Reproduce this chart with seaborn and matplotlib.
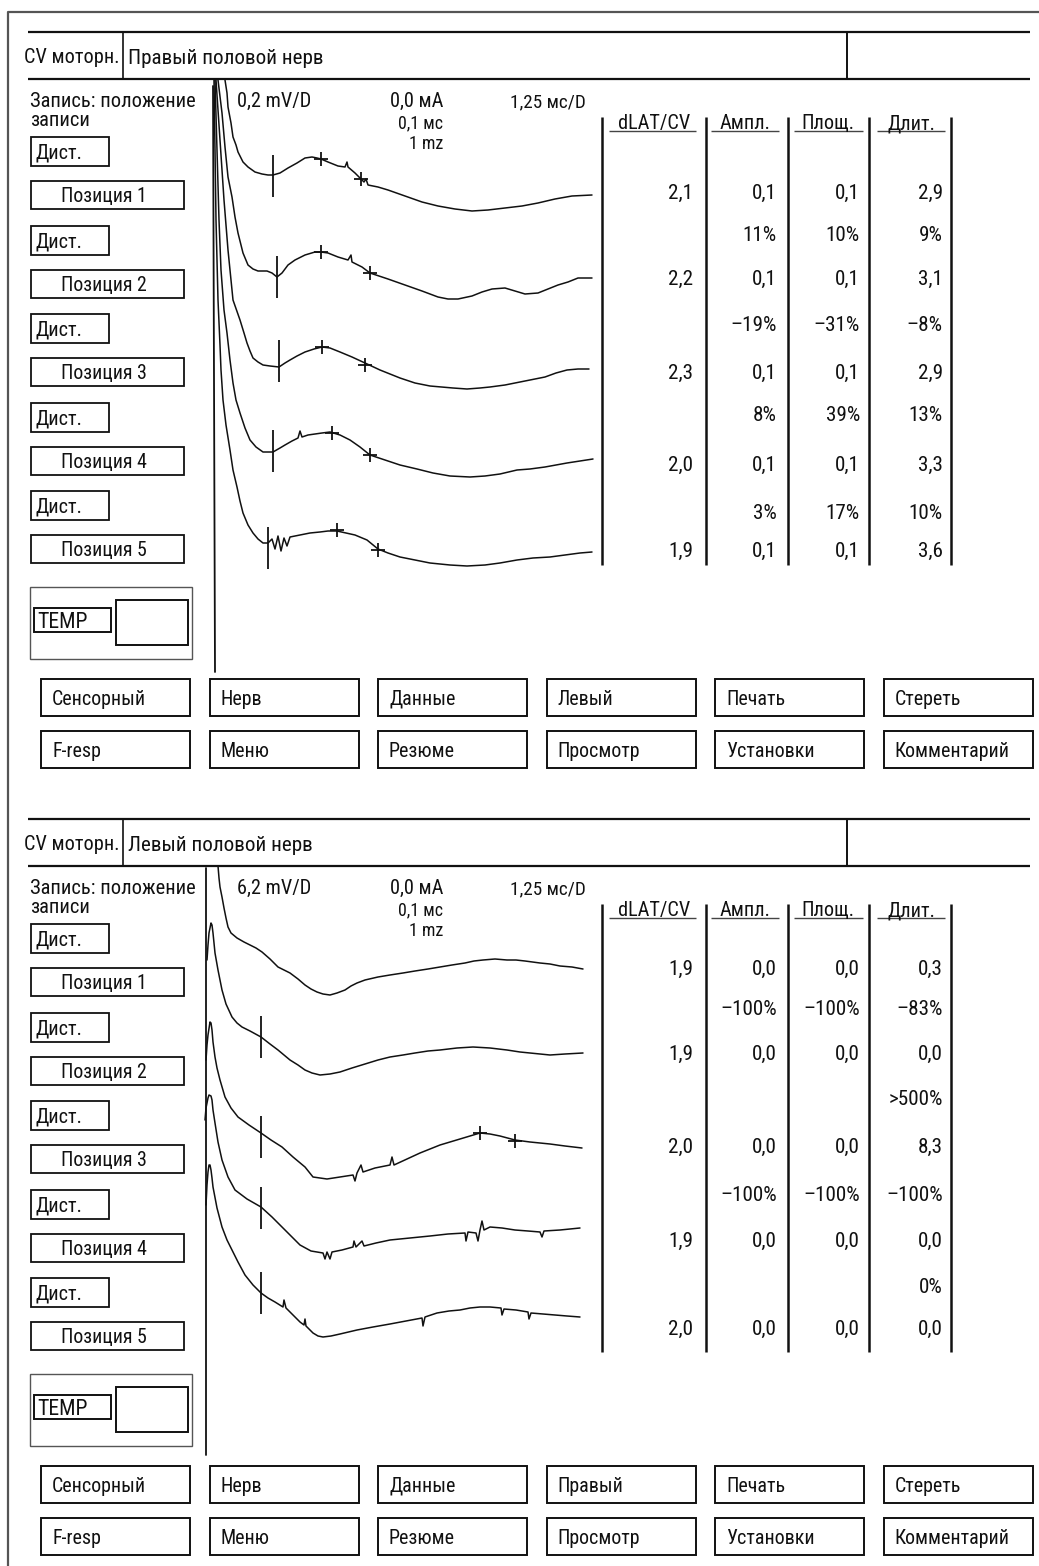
import matplotlib
matplotlib.use("Agg")
import matplotlib.pyplot as plt
import seaborn as sns
import pandas as pd
from matplotlib.patches import Rectangle
from matplotlib import font_manager as fm

sns.set_theme(style="white")

# pick a condensed sans family if one is installed, else Liberation Sans
_names = {f.name for f in fm.fontManager.ttflist}
FONT_SCALE = 1.0
if "Roboto Condensed" in _names:
    plt.rcParams['font.family'] = ['Roboto Condensed', 'DejaVu Sans']
    FONT_SCALE = 1.12
elif "Liberation Sans Narrow" in _names:
    plt.rcParams['font.family'] = ['Liberation Sans Narrow', 'DejaVu Sans']
    FONT_SCALE = 1.12
else:
    plt.rcParams['font.family'] = ['Liberation Sans', 'DejaVu Sans']

# ---------------------------------------------------------------- data
mode_label = "CV моторн."
panel_titles = ["Правый половой нерв", "Левый половой нерв"]
record_label = ["Запись: положение", "записи"]
gain_labels = ["0,2 mV/D", "6,2 mV/D"]
stim_labels = ["0,0 мА", "0,1 мс", "1 mz"]
sweep_label = "1,25 мс/D"
table_headers = ["dLAT/CV", "Ампл.", "Площ.", "Длит."]
dist_label = "Дист."
site_labels = ["Позиция 1", "Позиция 2", "Позиция 3", "Позиция 4", "Позиция 5"]
temp_label = "TEMP"
buttons_row1 = [["Сенсорный", "Нерв", "Данные", "Левый", "Печать", "Стереть"],
                ["Сенсорный", "Нерв", "Данные", "Правый", "Печать", "Стереть"]]
buttons_row2 = ["F-resp", "Меню", "Резюме", "Просмотр", "Установки", "Комментарий"]

# right nerve results
right_dlat = ["2,1", "2,2", "2,3", "2,0", "1,9"]
right_ampl = ["0,1", "0,1", "0,1", "0,1", "0,1"]
right_area = ["0,1", "0,1", "0,1", "0,1", "0,1"]
right_dur = ["2,9", "3,1", "2,9", "3,3", "3,6"]
right_ampl_pct = ["11%", "–19%", "8%", "3%"]
right_area_pct = ["10%", "–31%", "39%", "17%"]
right_dur_pct = ["9%", "–8%", "13%", "10%"]

# left nerve results
left_dlat = ["1,9", "1,9", "2,0", "1,9", "2,0"]
left_ampl = ["0,0", "0,0", "0,0", "0,0", "0,0"]
left_area = ["0,0", "0,0", "0,0", "0,0", "0,0"]
left_dur = ["0,3", "0,0", "8,3", "0,0", "0,0"]
left_ampl_pct = ["–100%", "", "–100%", ""]
left_area_pct = ["–100%", "", "–100%", ""]
left_dur_pct = ["–83%", ">500%", "–100%", "0%"]

# traces (screen x, screen y)
right_pos1 = [(225, 80), (227, 93), (228, 107), (231, 123), (233, 137), (236, 145), (238, 152),
              (243, 162), (248, 167), (255, 172), (262, 174), (268, 175), (273, 175), (280, 173),
              (288, 168), (297, 163), (305, 158), (312, 157), (317, 158), (321, 159), (328, 162),
              (338, 166), (345, 167), (347, 162), (348, 167), (355, 173), (360, 178), (364, 182),
              (366, 179), (368, 185), (378, 187), (388, 190), (405, 196), (422, 202), (438, 206),
              (455, 209), (472, 211), (488, 210), (505, 208), (522, 206), (538, 203), (555, 199),
              (572, 196), (592, 195)]
right_pos2 = [(218, 80), (222, 113), (225, 147), (228, 177), (232, 197), (235, 217), (238, 233),
              (243, 253), (248, 265), (253, 269), (258, 271), (267, 271), (272, 273), (277, 277),
              (282, 273), (288, 265), (295, 260), (305, 255), (315, 252), (321, 252), (328, 253),
              (338, 257), (348, 260), (351, 255), (352, 262), (362, 267), (370, 273), (388, 279),
              (405, 285), (422, 291), (438, 297), (448, 299), (458, 299), (472, 296), (482, 292),
              (492, 289), (505, 288), (515, 291), (525, 294), (538, 293), (548, 289), (558, 285),
              (568, 282), (578, 278), (592, 278)]
right_pos3 = [(216, 80), (220, 140), (224, 200), (228, 250), (233, 300), (240, 320), (244, 333),
              (247, 343), (250, 351), (253, 358), (258, 362), (263, 365), (270, 366), (279, 367),
              (285, 363), (290, 360), (297, 356), (305, 352), (314, 349), (322, 347), (330, 348),
              (340, 352), (352, 357), (365, 363), (380, 370), (400, 378), (415, 383), (430, 386),
              (453, 388), (467, 389), (480, 388), (490, 387), (505, 385), (520, 382), (535, 379),
              (545, 377), (556, 373), (567, 370), (578, 369), (589, 369)]
right_pos4 = [(215, 80), (217, 150), (219, 220), (221, 270), (224, 310), (227, 333), (230, 360),
              (233, 383), (236, 400), (240, 413), (245, 428), (250, 440), (256, 447), (263, 452),
              (273, 452), (280, 448), (285, 445), (292, 441), (298, 438), (300, 431), (302, 437),
              (308, 435), (315, 434), (322, 433), (330, 432), (340, 435), (350, 440), (360, 447),
              (370, 455), (385, 460), (400, 465), (417, 469), (433, 473), (450, 476), (470, 477),
              (485, 476), (500, 474), (517, 470), (530, 469), (545, 467), (556, 465), (567, 463),
              (580, 461), (593, 459)]
right_pos5 = [(214, 80), (215, 150), (216, 220), (218, 300), (220, 345), (221, 370), (223, 400),
              (226, 425), (230, 450), (233, 470), (237, 487), (240, 501), (243, 513), (248, 525),
              (253, 533), (258, 539), (263, 543), (268, 543), (272, 539), (275, 549), (278, 536),
              (281, 551), (284, 538), (287, 546), (290, 537), (295, 536), (300, 535), (310, 533),
              (320, 532), (328, 531), (337, 531), (346, 533), (355, 535), (367, 540), (378, 549),
              (388, 553), (400, 557), (415, 560), (430, 563), (450, 565), (467, 566), (485, 565),
              (500, 563), (517, 560), (533, 558), (550, 557), (565, 555), (580, 553), (592, 552)]
right_onset = [(273, 176), (277, 277), (279, 361), (273, 451), (268, 548)]
right_cursors = [(321, 159), (361, 179), (321, 252), (370, 273), (322, 347), (365, 365),
                 (332, 433), (370, 455), (337, 530), (378, 550)]

left_pos1 = [(218, 866), (219, 878), (220, 887), (222, 897), (224, 908), (226, 918), (228, 927),
             (231, 933), (237, 938), (244, 942), (250, 945), (256, 948), (262, 952), (270, 959),
             (278, 967), (284, 970), (290, 973), (298, 979), (305, 985), (311, 989), (317, 992),
             (323, 994), (330, 995), (337, 993), (345, 990), (351, 986), (357, 983), (365, 980),
             (378, 977), (390, 975), (403, 973), (415, 971), (428, 969), (440, 967), (452, 965),
             (465, 963), (474, 961), (483, 960), (495, 959), (507, 960), (516, 960), (525, 961),
             (540, 963), (550, 964), (560, 966), (572, 967), (583, 969)]
left_pos2 = [(207, 960), (208, 945), (209, 933), (211, 923), (212, 925), (213, 933), (214, 943),
             (215, 953), (218, 970), (222, 990), (226, 1004), (232, 1017), (237, 1023), (242, 1027),
             (250, 1031), (261, 1037), (270, 1044), (278, 1050), (284, 1055), (290, 1060),
             (298, 1065), (305, 1070), (312, 1073), (320, 1075), (330, 1074), (340, 1072),
             (352, 1068), (365, 1064), (378, 1060), (390, 1057), (403, 1055), (415, 1053),
             (428, 1051), (440, 1050), (457, 1048), (473, 1047), (490, 1048), (507, 1050),
             (520, 1052), (530, 1053), (540, 1054), (550, 1055), (565, 1054), (583, 1053)]
left_pos3 = [(206, 1060), (207, 1045), (208, 1035), (210, 1022), (211, 1023), (212, 1030),
             (213, 1042), (215, 1057), (217, 1068), (220, 1080), (225, 1097), (231, 1108),
             (238, 1117), (249, 1125), (261, 1133), (271, 1140), (282, 1147), (293, 1157),
             (305, 1167), (313, 1177), (320, 1178), (327, 1179), (340, 1177), (353, 1175),
             (355, 1181), (357, 1173), (361, 1165), (363, 1172), (375, 1168), (390, 1165),
             (392, 1157), (394, 1165), (407, 1159), (420, 1153), (430, 1149), (440, 1145),
             (450, 1142), (460, 1139), (470, 1136), (480, 1133), (490, 1134), (500, 1136),
             (515, 1140), (530, 1142), (550, 1144), (565, 1146), (582, 1148)]
left_pos4 = [(205, 1120), (206, 1108), (208, 1098), (209, 1095), (211, 1096), (212, 1100),
             (213, 1110), (215, 1123), (218, 1142), (222, 1160), (228, 1177), (235, 1190),
             (247, 1199), (261, 1207), (272, 1217), (282, 1227), (291, 1236), (300, 1245),
             (311, 1251), (323, 1253), (325, 1259), (327, 1252), (330, 1259), (332, 1252),
             (342, 1250), (353, 1247), (354, 1241), (356, 1247), (362, 1241), (364, 1246),
             (376, 1243), (390, 1240), (410, 1238), (430, 1236), (448, 1234), (465, 1233),
             (466, 1241), (468, 1232), (476, 1233), (478, 1241), (480, 1230), (482, 1221),
             (484, 1230), (490, 1227), (502, 1228), (515, 1230), (528, 1231), (540, 1232),
             (542, 1237), (544, 1231), (560, 1230), (580, 1228)]
left_pos5 = [(206, 1205), (207, 1185), (208, 1172), (209, 1165), (210, 1165), (211, 1170),
             (212, 1178), (213, 1187), (217, 1208), (222, 1227), (227, 1240), (232, 1250),
             (238, 1262), (245, 1275), (253, 1285), (261, 1293), (268, 1298), (275, 1302),
             (283, 1307), (284, 1300), (286, 1308), (293, 1315), (300, 1322), (304, 1325),
             (305, 1319), (306, 1326), (313, 1333), (318, 1336), (323, 1337), (331, 1336),
             (340, 1334), (357, 1330), (373, 1327), (390, 1324), (406, 1321), (422, 1318),
             (423, 1326), (425, 1317), (437, 1313), (449, 1311), (460, 1310), (470, 1308),
             (480, 1307), (490, 1307), (501, 1308), (502, 1315), (504, 1309), (516, 1310),
             (528, 1312), (529, 1319), (531, 1313), (543, 1314), (555, 1315), (567, 1316),
             (580, 1317)]
left_onset = [(261, 1037), (261, 1137), (261, 1208), (261, 1293)]
left_cursors = [(480, 1133), (515, 1141)]

# ---------------------------------------------------------------- figure
W, H = 1039, 1566
fig = plt.figure(figsize=(W / 100, H / 100), dpi=100)
ax = fig.add_axes([0, 0, 1, 1])
INK = "#111111"


def pt_px(pt):
    return pt * 100 / 72


def txt(x, yc, s, size, ha="left"):
    size = size * FONT_SCALE
    base = yc + 0.711 * pt_px(size) / 2
    ax.text(x, base, s, fontsize=size, ha=ha, va="baseline", color=INK)


def box(x0, y0, x1, y1, lw=1.3, ec=INK):
    ax.add_patch(Rectangle((x0, y0), x1 - x0, y1 - y0, fill=False, lw=lw, ec=ec))


def hline(x0, x1, y, lw=1.3, c=INK):
    ax.plot([x0, x1], [y, y], color=c, lw=lw, solid_capstyle="butt")


def vline(x, y0, y1, lw=1.3, c=INK):
    ax.plot([x, x], [y0, y1], color=c, lw=lw, solid_capstyle="butt")


# traces through seaborn
rows = []
for name, tr in [("r1", right_pos1), ("r2", right_pos2), ("r3", right_pos3), ("r4", right_pos4),
                 ("r5", right_pos5), ("l1", left_pos1), ("l2", left_pos2), ("l3", left_pos3),
                 ("l4", left_pos4), ("l5", left_pos5)]:
    for i, (x, y) in enumerate(tr):
        rows.append({"trace": name, "i": i, "t": x, "v": y})
df = pd.DataFrame(rows)
sns.lineplot(data=df, x="t", y="v", units="trace", estimator=None, sort=False,
             color=INK, lw=1.1, ax=ax, legend=False)

on = pd.DataFrame(right_onset + left_onset, columns=["t", "v"])
sns.scatterplot(data=on, x="t", y="v", marker="|", s=900, color=INK, linewidth=1.3, ax=ax,
                legend=False)
cu = pd.DataFrame(right_cursors + left_cursors, columns=["t", "v"])
sns.scatterplot(data=cu, x="t", y="v", marker="+", s=110, color=INK, linewidth=1.3, ax=ax,
                legend=False)

# outer frame
ax.plot([8, 8, W], [H, 12, 12], color="#555555", lw=1.6)

panel_results = [
    (right_dlat, right_ampl, right_area, right_dur, right_ampl_pct, right_area_pct, right_dur_pct,
     [191, 277, 371, 463, 549], [233, 323, 413, 511]),
    (left_dlat, left_ampl, left_area, left_dur, left_ampl_pct, left_area_pct, left_dur_pct,
     [967, 1052, 1145, 1239, 1327], [1007, 1097, 1193, 1285]),
]
axis_lines = [((213, 86), (215, 672)), ((206, 868), (206, 1455))]

for p in range(2):
    dy = 787 * p
    # header
    hline(28, 1030, 32 + dy, lw=1.6)
    hline(28, 1030, 79 + dy, lw=1.6)
    vline(123, 32 + dy, 79 + dy, lw=1.2)
    vline(847, 32 + dy, 79 + dy, lw=1.4)
    txt(24, 56 + dy, mode_label, 13)
    txt(128, 56 + dy, panel_titles[p], 13.6)
    # record positions
    txt(30, 100 + dy, record_label[0], 13.2)
    txt(30, 119 + dy, record_label[1], 13.2)
    for k in range(5):
        t0 = 137 + 88.5 * k + dy
        box(31, t0, 109, t0 + 29)
        txt(36, t0 + 14.5, dist_label, 13)
        s0 = 181 + 88.5 * k + dy
        box(31, s0, 184, s0 + 28)
        txt(104, s0 + 14, site_labels[k], 12.8, ha="center")
    # temp
    box(30, 587 + dy, 192, 659 + dy, lw=1.0, ec="#555555")
    box(34, 608 + dy, 111, 632 + dy, lw=1.4)
    txt(37, 620 + dy, temp_label, 14)
    box(116, 600 + dy, 188, 645 + dy, lw=1.4)
    # axis line of trace window
    (ax0, ay0), (ax1, ay1) = axis_lines[p]
    ax.plot([ax0, ax1], [ay0, ay1], color=INK, lw=1.3)
    # settings
    txt(237, 100 + dy, gain_labels[p], 13)
    txt(443, 100 + dy, stim_labels[0], 13, ha="right")
    txt(443, 122 + dy, stim_labels[1], 11.5, ha="right")
    txt(443, 143 + dy, stim_labels[2], 11.5, ha="right")
    txt(510, 101 + dy, sweep_label, 12.3)
    # table
    for x in [602, 706, 788, 869, 951]:
        vline(x, 117 + dy, 565 + dy, lw=1.8)
    for (cx, u0, u1), head in zip([(654, 609, 696), (745, 711, 779), (828, 794, 863),
                                   (911, 877, 945)], table_headers):
        txt(cx, 122 + dy, head, 13, ha="center")
        hline(u0, u1, 131 + dy, lw=1.0, c="#444444")
    dl, am, ar, du, amp, arp, dup, vy, py = panel_results[p]
    colx = [693, 777, 860, 943]
    for k in range(5):
        for cx, col in zip(colx, [dl, am, ar, du]):
            txt(cx, vy[k], col[k], 13.6, ha="right")
    for k in range(4):
        for cx, col in zip(colx[1:], [amp, arp, dup]):
            if col[k]:
                txt(cx, py[k], col[k], 13.6, ha="right")
    # buttons
    for i in range(6):
        x0 = 41 + 168.5 * i
        box(x0, 679 + dy, x0 + 149, 716 + dy, lw=1.4)
        txt(x0 + 11, 697.5 + dy, buttons_row1[p][i], 12.9)
        box(x0, 731 + dy, x0 + 149, 768 + dy, lw=1.4)
        txt(x0 + 11, 749.5 + dy, buttons_row2[i], 12.9)

ax.set_xlim(0, W)
ax.set_ylim(H, 0)
ax.axis("off")
fig.savefig("out.png", dpi=100, facecolor="white")
